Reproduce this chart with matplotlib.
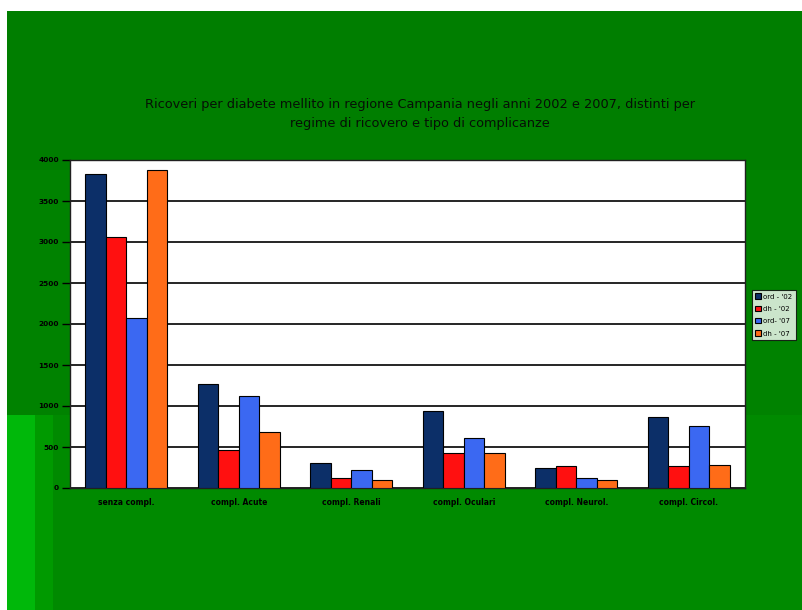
import numpy as np
import matplotlib
matplotlib.use("Agg")
import matplotlib.pyplot as plt
from matplotlib.patches import Rectangle

categories = ["senza compl.", "compl. Acute", "compl. Renali",
              "compl. Oculari", "compl. Neurol.", "compl. Circol."]
series_names = ["ord - '02", "dh - '02", "ord- '07", "dh - '07"]
ord_02 = [3835, 1268, 309, 941, 247, 860]
dh_02 = [3060, 466, 119, 432, 266, 266]
ord_07 = [2076, 1126, 223, 613, 124, 755]
dh_07 = [3880, 679, 100, 432, 100, 285]
yticks = [0, 500, 1000, 1500, 2000, 2500, 3000, 3500, 4000]

colors = ["#0c2f68", "#ff1010", "#3b68f2", "#ff6c18"]
title = ("Ricoveri per diabete mellito in regione Campania negli anni 2002 e 2007, distinti per\n"
         "regime di ricovero e tipo di complicanze")

W, H = 803, 610
fig = plt.figure(figsize=(W / 100, H / 100), dpi=100, facecolor="white")

# slide background: green panel with a lighter strip on the lower left
bg = fig.add_axes([0, 0, 1, 1])
bg.set_xlim(0, W)
bg.set_ylim(H, 0)
bg.axis("off")
bg.add_patch(Rectangle((7, 11), W - 7, H - 11, color="#007e00", lw=0))
bg.add_patch(Rectangle((7, 170), W - 7, H - 170, color="#008200", lw=0))
bg.add_patch(Rectangle((35, 415), W - 35, H - 415, color="#008a00", lw=0))
bg.add_patch(Rectangle((7, 415), 28, H - 415, color="#00b80a", lw=0))
bg.add_patch(Rectangle((35, 415), 18, H - 415, color="#009a00", lw=0))

fig.text(420 / W, 1 - 114 / H, title, ha="center", va="center",
         fontsize=9.3, color="#061006", family="DejaVu Sans",
         linespacing=1.6)

ax = fig.add_axes([70 / W, 1 - 488 / H, 675 / W, 328 / H])
ax.set_facecolor("white")
x = np.arange(len(categories))
bw = 0.182
data = [ord_02, dh_02, ord_07, dh_07]
for i, (vals, c, name) in enumerate(zip(data, colors, series_names)):
    ax.bar(x + (i - 1.5) * bw, vals, width=bw, color=c, edgecolor="black",
           linewidth=0.8, label=name, zorder=3)

ax.set_xlim(-0.5, len(categories) - 0.5)
ax.set_ylim(0, 4000)
ax.set_yticks(yticks)
ax.set_yticklabels([str(v) for v in yticks], fontsize=5.3, fontweight="bold")
ax.yaxis.grid(True, color="black", linewidth=1.2, zorder=0)
ax.set_axisbelow(True)
ax.tick_params(axis="y", length=6, width=1.0, pad=2, colors="black")
ax.set_xticks(x)
ax.set_xticklabels(categories, fontsize=5.5, fontweight="bold")
ax.tick_params(axis="x", length=0, pad=7)
for s in ax.spines.values():
    s.set_color("#202020")
    s.set_linewidth(1.0)

leg = fig.legend(loc="upper left", bbox_to_anchor=(752 / W, 1 - 290 / H),
                 fontsize=5, frameon=True, fancybox=False, edgecolor="black",
                 handlelength=0.8, handleheight=0.8, handletextpad=0.3,
                 borderpad=0.5, labelspacing=0.9, borderaxespad=0)
leg.get_frame().set_linewidth(0.8)

fig.savefig("out.png", dpi=100, facecolor="white")
